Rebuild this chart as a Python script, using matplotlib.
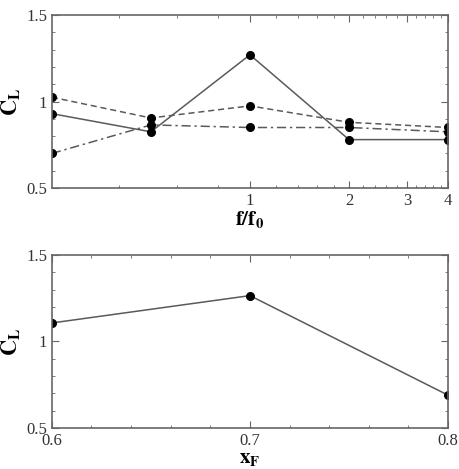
import matplotlib
matplotlib.use("Agg")
import matplotlib.pyplot as plt
import numpy as np
from matplotlib.ticker import MultipleLocator, FixedLocator, FixedFormatter, NullFormatter

plt.rcParams['font.family'] = ['Liberation Serif', 'DejaVu Serif']
plt.rcParams['mathtext.fontset'] = 'stix'

# top panel: C_L vs f/f0 (log axis)
f_ratio = [0.25, 0.5, 1, 2, 4]
cl_solid = [0.93, 0.825, 1.27, 0.78, 0.78]
cl_dashed = [1.025, 0.905, 0.975, 0.88, 0.85]
cl_dashdot = [0.70, 0.865, 0.85, 0.85, 0.825]

# bottom panel: C_L vs x_F
x_f = [0.6, 0.7, 0.8]
cl_xf = [1.107, 1.265, 0.69]

line_col = '#5a5a5a'
spine_col = '#666666'

fig = plt.figure(figsize=(4.59, 4.69), dpi=100)
ax1 = fig.add_axes([0.113, 0.599, 0.863, 0.369])
ax2 = fig.add_axes([0.113, 0.0874, 0.863, 0.369])

mk = dict(marker='o', markersize=5.5, markerfacecolor='black', markeredgecolor='black')
ax1.plot(f_ratio, cl_solid, '-', color=line_col, lw=1.1, **mk)
ax1.plot(f_ratio, cl_dashed, '--', color=line_col, lw=1.1, dashes=(4, 2.5), **mk)
ax1.plot(f_ratio, cl_dashdot, '-.', color=line_col, lw=1.1, dashes=(6, 2.5, 1.5, 2.5), **mk)
ax1.set_xscale('log')
ax1.set_xlim(0.25, 4)
ax1.set_ylim(0.5, 1.5)
ax1.xaxis.set_major_locator(FixedLocator([1, 2, 3, 4]))
ax1.xaxis.set_major_formatter(FixedFormatter(['1', '2', '3', '4']))
minors = [0.4, 0.6, 0.8] + [v for v in np.arange(1.2, 4.0, 0.2) if abs(v - round(v)) > 0.01]
ax1.xaxis.set_minor_locator(FixedLocator(minors))
ax1.xaxis.set_minor_formatter(NullFormatter())
ax1.set_xlabel(r'$\mathbf{f/f_0}$', fontsize=15, labelpad=0)

ax2.plot(x_f, cl_xf, '-', color=line_col, lw=1.1, **mk)
ax2.set_xlim(0.6, 0.8)
ax2.set_ylim(0.5, 1.5)
ax2.xaxis.set_major_locator(FixedLocator([0.6, 0.7, 0.8]))
ax2.xaxis.set_major_formatter(FixedFormatter(['0.6', '0.7', '0.8']))
ax2.xaxis.set_minor_locator(MultipleLocator(0.02))
ax2.set_xlabel(r'$\mathbf{x_F}$', fontsize=15, labelpad=0)

for ax in (ax1, ax2):
    ax.yaxis.set_major_locator(FixedLocator([0.5, 1, 1.5]))
    ax.yaxis.set_major_formatter(FixedFormatter(['0.5', '1', '1.5']))
    ax.yaxis.set_minor_locator(MultipleLocator(0.1))
    ax.tick_params(which='both', direction='in', top=True, right=True, colors=spine_col, labelcolor='#333333', labelsize=12)
    ax.tick_params(which='major', length=5)
    ax.tick_params(which='minor', length=2.5)
    ax.set_ylabel(r'$\mathbf{C_L}$', fontsize=16, labelpad=2)
    for s in ax.spines.values():
        s.set_color(spine_col)
        s.set_linewidth(1.2)

fig.savefig('out.png', dpi=100)
